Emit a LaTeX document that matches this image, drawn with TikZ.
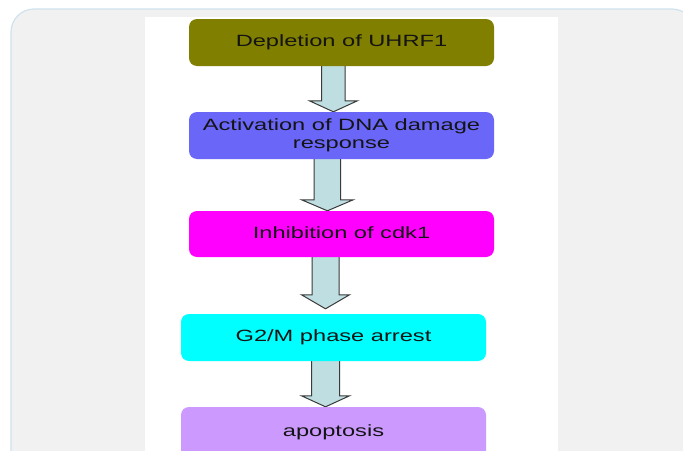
\documentclass[tikz,border=0pt]{standalone}
\usepackage{fontspec}
\newfontfamily\boxfont[FakeStretch=1.45]{Liberation Sans}
\usetikzlibrary{calc}
\definecolor{outerfill}{HTML}{F1F1F1}
\definecolor{outerline}{HTML}{CFE2EE}
\definecolor{cOlive}{HTML}{807F00}
\definecolor{cBlue}{HTML}{6966F8}
\definecolor{cMagenta}{HTML}{FF00FF}
\definecolor{cCyan}{HTML}{00FFFF}
\definecolor{cLav}{HTML}{CC99FF}
\definecolor{arrfill}{HTML}{BEDEE2}
\definecolor{arrline}{HTML}{3A3A3A}
\pgfdeclarelayer{back}
\pgfdeclarelayer{mid}
\pgfsetlayers{back,mid,main}
\newcommand\blkarrow[7]{%
  \draw[blkarr] let \p1=(#1.south), \p2=(#2.north) in
  (#3pt-#4pt,\y1+2pt) -- (#3pt-#4pt,\y2+#6pt+#7pt) -- (#3pt-#5pt,\y2+#6pt+#7pt)
  -- (#3pt,\y2+#7pt) -- (#3pt+#5pt,\y2+#6pt+#7pt) -- (#3pt+#4pt,\y2+#6pt+#7pt)
  -- (#3pt+#4pt,\y1+2pt) -- cycle;}
\begin{document}
\begin{tikzpicture}[x=1pt,y=-1pt,
  box/.style={rounded corners=8pt, minimum width=305pt, inner sep=0pt,
    font=\boxfont\fontsize{16.3}{17.5}\selectfont, text=black!92, align=center},
  one/.style={text height=12pt, text depth=3.5pt},
  blkarr/.style={fill=arrfill, draw=arrline, line width=1pt, line join=miter}]
\path[use as bounding box, clip] (0,0) rectangle (683,450);
\begin{pgfonlayer}{back}
  \draw[fill=outerfill, draw=outerline, line width=1.2pt, rounded corners=23pt]
    (11,9) rectangle (695,490);
  \fill[white] (145,17) rectangle (558,470);
\end{pgfonlayer}
\node[box, one, fill=cOlive, minimum height=47pt] (b1) at (341.5,42.5) {Depletion of UHRF1};
\node[box, fill=cBlue, minimum height=47pt] (b2) at (341.5,135.5) {Activation of DNA damage\\response};
\node[box, one, fill=cMagenta, minimum height=46pt] (b3) at (341.5,234) {Inhibition of cdk1};
\node[box, one, fill=cCyan, minimum height=47pt] (b4) at (333.5,337.5) {G2/M phase arrest};
\node[box, one, fill=cLav, minimum height=51pt] (b5) at (333.5,432.5) {apoptosis};
\begin{pgfonlayer}{mid}
  \blkarrow{b1}{b2}{333.4}{11.7}{24}{11}{0}
  \blkarrow{b2}{b3}{327.4}{13.3}{25.8}{11}{0}
  \blkarrow{b3}{b4}{325.5}{13.5}{24}{14}{5}
  \blkarrow{b4}{b5}{325.5}{14}{24}{11}{0}
\end{pgfonlayer}
\end{tikzpicture}
\end{document}
